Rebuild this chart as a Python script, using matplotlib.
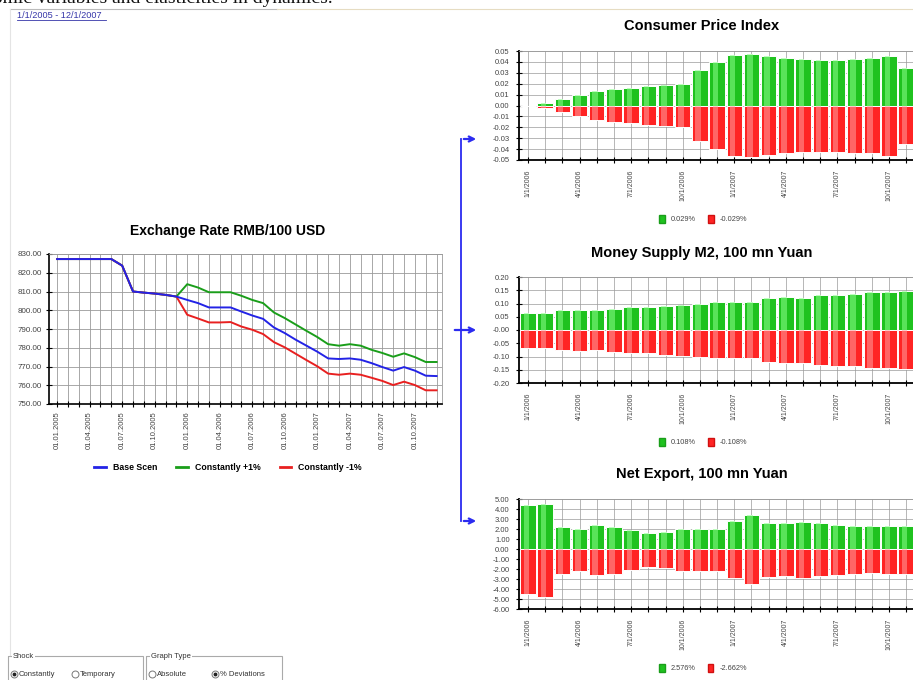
import numpy as np
import matplotlib
matplotlib.use("Agg")
import matplotlib.pyplot as plt
from matplotlib.patches import Patch, Rectangle
from matplotlib.lines import Line2D

plt.rcParams['font.family'] = ['Liberation Sans', 'DejaVu Sans']

W, H = 913, 680

# exchange rate RMB/100 USD, monthly 01.2005 - 12.2007
fx_base = [827.3, 827.3, 827.3, 827.3, 827.3, 827.3, 823.8, 810.0, 809.4, 808.9, 808.2, 807.3,
           805.5, 803.8, 801.5, 801.5, 801.5, 799.3, 797.2, 795.4, 790.8, 787.8, 784.3, 781.1,
           777.9, 774.3, 774.0, 774.3, 773.6, 771.8, 769.7, 767.8, 769.7, 767.8, 765.1, 764.9]
fx_plus = [827.3, 827.3, 827.3, 827.3, 827.3, 827.3, 823.8, 810.0, 809.4, 808.9, 808.2, 807.3,
           813.9, 812.1, 809.6, 809.6, 809.6, 807.7, 805.5, 803.8, 798.8, 795.8, 792.4, 789.0,
           785.7, 781.9, 781.1, 781.9, 781.1, 778.9, 777.2, 775.2, 777.0, 775.0, 772.4, 772.4]
fx_minus = [827.3, 827.3, 827.3, 827.3, 827.3, 827.3, 823.8, 810.0, 809.4, 808.9, 808.2, 807.3,
            797.6, 795.6, 793.5, 793.5, 793.7, 791.3, 789.6, 787.3, 783.0, 780.2, 776.8, 773.4,
            770.1, 766.2, 765.6, 766.2, 765.6, 764.0, 762.3, 760.1, 761.9, 760.1, 757.3, 757.3]
fx_labels = ['01.01.2005', '01.04.2005', '01.07.2005', '01.10.2005',
             '01.01.2006', '01.04.2006', '01.07.2006', '01.10.2006',
             '01.01.2007', '01.04.2007', '01.07.2007', '01.10.2007']
fx_names = ['Base Scen', 'Constantly +1%', 'Constantly -1%']

# deviations, monthly 01.2006 - 12.2007
cpi_pos = [0.0, 0.002, 0.006, 0.010, 0.013, 0.015, 0.016, 0.018, 0.019, 0.020, 0.033, 0.040,
           0.046, 0.047, 0.045, 0.044, 0.043, 0.042, 0.042, 0.043, 0.044, 0.0455, 0.034, 0.032]
cpi_neg = [0.0, -0.002, -0.006, -0.010, -0.013, -0.015, -0.016, -0.018, -0.019, -0.020, -0.033, -0.040,
           -0.046, -0.047, -0.045, -0.044, -0.043, -0.043, -0.043, -0.044, -0.044, -0.046, -0.035, -0.032]
m2_pos = [0.066, 0.066, 0.076, 0.077, 0.075, 0.081, 0.085, 0.086, 0.092, 0.095, 0.099, 0.105,
          0.105, 0.104, 0.119, 0.123, 0.122, 0.132, 0.133, 0.135, 0.143, 0.143, 0.146, 0.148]
m2_neg = [-0.067, -0.067, -0.076, -0.078, -0.076, -0.082, -0.086, -0.087, -0.094, -0.097, -0.100, -0.107,
          -0.107, -0.106, -0.120, -0.124, -0.123, -0.133, -0.134, -0.136, -0.144, -0.145, -0.148, -0.150]
nx_pos = [4.36, 4.50, 2.22, 1.99, 2.42, 2.22, 1.89, 1.59, 1.66, 2.02, 1.99, 1.99,
          2.79, 3.43, 2.62, 2.56, 2.73, 2.59, 2.42, 2.29, 2.29, 2.32, 2.32, 2.30]
nx_neg = [-4.50, -4.77, -2.49, -2.22, -2.62, -2.46, -2.09, -1.82, -1.89, -2.19, -2.16, -2.19,
          -2.89, -3.53, -2.79, -2.72, -2.86, -2.69, -2.59, -2.46, -2.39, -2.46, -2.49, -2.47]
bar_labels = ['1/1/2006', '4/1/2006', '7/1/2006', '10/1/2006',
              '1/1/2007', '4/1/2007', '7/1/2007', '10/1/2007']


def px_rect(l, t, r, b):
    return [l / W, 1 - b / H, (r - l) / W, (b - t) / H]


fig = plt.figure(figsize=(W / 100, H / 100), dpi=100)
fig.patch.set_facecolor('white')

# ---- exchange rate line chart
ax = fig.add_axes(px_rect(49, 254, 442, 404))
n = len(fx_base)
x = np.arange(n)
ax.set_xlim(-0.75, n - 0.5)
ax.set_ylim(750, 830)
ax.set_xticks(x, minor=True)
ax.set_xticks(np.arange(0, n, 3))
ax.set_xticklabels(fx_labels, rotation=90, fontsize=5.5, color='#444')
ax.set_yticks(np.arange(750, 831, 10))
ax.set_yticklabels(['%.2f' % v for v in np.arange(750, 831, 10)], fontsize=5.8, color='#444')
ax.grid(True, which='both', axis='x', color='#9a9a9a', lw=0.6)
ax.grid(True, which='major', axis='y', color='#9a9a9a', lw=0.6)
ax.set_axisbelow(True)
ax.tick_params(which='both', direction='inout', length=4, width=0.8, pad=3)
for s in ['top', 'right']:
    ax.spines[s].set_color('#999')
    ax.spines[s].set_linewidth(0.6)
for s in ['left', 'bottom']:
    ax.spines[s].set_linewidth(1.2)
ax.plot(x, fx_plus, color='#1a9e1a', lw=1.4)
ax.plot(x, fx_minus, color='#e82020', lw=1.4)
ax.plot(x, fx_base, color='#2323e6', lw=1.4)
fig.legend(handles=[Line2D([], [], color=c, lw=2) for c in ['#2323e6', '#1a9e1a', '#e82020']],
           labels=fx_names, loc='center', bbox_to_anchor=(228 / W, 1 - 468 / H), ncol=3,
           frameon=False, handlelength=1.3, columnspacing=2.2, handletextpad=0.8,
           prop={'size': 6.3, 'weight': 'bold'})


# ---- bar charts
def bar_panel(top, bottom, pos, neg, ylim, yticks, leg_y, leg_labels):
    ax = fig.add_axes(px_rect(519.4, top, 932, bottom))
    m = np.arange(len(pos))
    ax.set_xlim(-0.5, len(pos) - 0.5)
    ax.set_ylim(*ylim)
    ax.set_xticks(m, minor=True)
    ax.set_xticks(np.arange(0, len(pos), 3))
    ax.set_xticklabels(bar_labels, rotation=90, fontsize=5, color='#444')
    ax.set_yticks(yticks)
    ax.set_yticklabels(['%.2f' % v for v in yticks], fontsize=5.5, color='#444')
    ax.grid(True, which='both', axis='x', color='#9a9a9a', lw=0.5)
    ax.grid(True, which='major', axis='y', color='#9a9a9a', lw=0.5)
    ax.set_axisbelow(True)
    ax.tick_params(which='both', direction='inout', length=4, width=0.8, pad=3)
    ax.tick_params(axis='x', pad=5)
    ax.tick_params(axis='y', pad=5)
    for s in ['top', 'right']:
        ax.spines[s].set_color('#999')
        ax.spines[s].set_linewidth(0.6)
    for s in ['left', 'bottom']:
        ax.spines[s].set_linewidth(1.3)
    ax.bar(m, pos, width=0.9, color='#1fc21f', edgecolor='white', lw=0.7, zorder=2)
    ax.bar(m - 0.1, pos, width=0.32, color='#8cff8c', alpha=0.55, lw=0, zorder=3)
    ax.bar(m, neg, width=0.9, color='#ff2424', edgecolor='white', lw=0.7, zorder=2)
    ax.bar(m - 0.1, neg, width=0.32, color='#ff9d9d', alpha=0.55, lw=0, zorder=3)
    fig.legend(handles=[Patch(facecolor='#1fc21f', edgecolor='#1a9e1a'),
                        Patch(facecolor='#ff2424', edgecolor='#d01010')],
               labels=leg_labels, loc='center', bbox_to_anchor=(703 / W, 1 - leg_y / H), ncol=2,
               frameon=False, handlelength=0.8, handleheight=1.4, columnspacing=1.6,
               handletextpad=0.8, prop={'size': 5.3}, labelcolor='#444')
    return ax


bar_panel(51, 160, cpi_pos, cpi_neg, (-0.05, 0.05), np.round(np.arange(-0.05, 0.051, 0.01), 2),
          219, ['0.029%', '-0.029%'])
bar_panel(277, 383, m2_pos, m2_neg, (-0.2, 0.2), np.round(np.arange(-0.2, 0.201, 0.05), 2),
          442, ['0.108%', '-0.108%'])
bar_panel(499, 609, nx_pos, nx_neg, (-6, 5), np.arange(-6, 5.1, 1.0),
          668, ['2.576%', '-2.662%'])

# ---- page decorations in pixel coordinates
ov = fig.add_axes([0, 0, 1, 1], zorder=10)
ov.set_xlim(0, W)
ov.set_ylim(H, 0)
ov.axis('off')

# heading of the page, cut off at the top edge as in the screenshot
ov.text(333, 3, 'economic variables and elasticities in dynamics.', ha='right', va='baseline',
        fontsize=14, family=['Liberation Serif', 'DejaVu Serif'], color='#111')
ov.plot([10, 277], [9, 9], color='#bbbbbb', lw=0.8)
ov.plot([277, W], [9, 9], color='#e6dcc2', lw=0.8)
ov.plot([10, 10], [9, 655], color='#e4e4e4', lw=0.8)
ov.text(17, 15, '1/1/2005 - 12/1/2007', fontsize=6.6, color='#3535a8', va='center')
ov.plot([17, 106], [19.5, 19.5], color='#3535a8', lw=0.6)

ov.text(228, 231, 'Exchange Rate RMB/100 USD', ha='center', va='center', fontsize=10, weight='bold')
ov.text(702, 26, 'Consumer Price Index', ha='center', va='center', fontsize=10.5, weight='bold')
ov.text(702, 253, 'Money Supply M2, 100 mn Yuan', ha='center', va='center', fontsize=10.5, weight='bold')
ov.text(702, 474, 'Net Export, 100 mn Yuan', ha='center', va='center', fontsize=10.5, weight='bold')

blue = '#2b2bf0'
ov.plot([461, 461], [139, 521], color=blue, lw=1.3)
for y0, x0 in [(139, 461), (330, 452), (521, 461)]:
    ov.annotate('', xy=(479, y0), xytext=(x0, y0),
                arrowprops=dict(arrowstyle='->', color=blue, lw=1.6, mutation_scale=9))

# form controls at the bottom left
for l, r, label in [(8, 143, 'Shock'), (146, 282, 'Graph Type')]:
    ov.add_patch(Rectangle((l, 656), r - l, 30, fill=False, edgecolor='#aaaaaa', lw=0.8))
    ov.text(l + 5, 656, label, fontsize=5.5, va='center', color='#333',
            bbox=dict(facecolor='white', edgecolor='none', pad=0.5))
for xr, label, sel in [(14, 'Constantly', True), (75, 'Temporary', False),
                       (152, 'Absolute', False), (215, '% Deviations', True)]:
    ov.plot(xr, 674, 'o', ms=5, mfc='white', mec='#777', mew=0.7)
    if sel:
        ov.plot(xr, 674, 'o', ms=1.8, color='#222')
    ov.text(xr + 5, 674, label, fontsize=5.5, va='center', color='#333')

fig.savefig('out.png', dpi=100)
